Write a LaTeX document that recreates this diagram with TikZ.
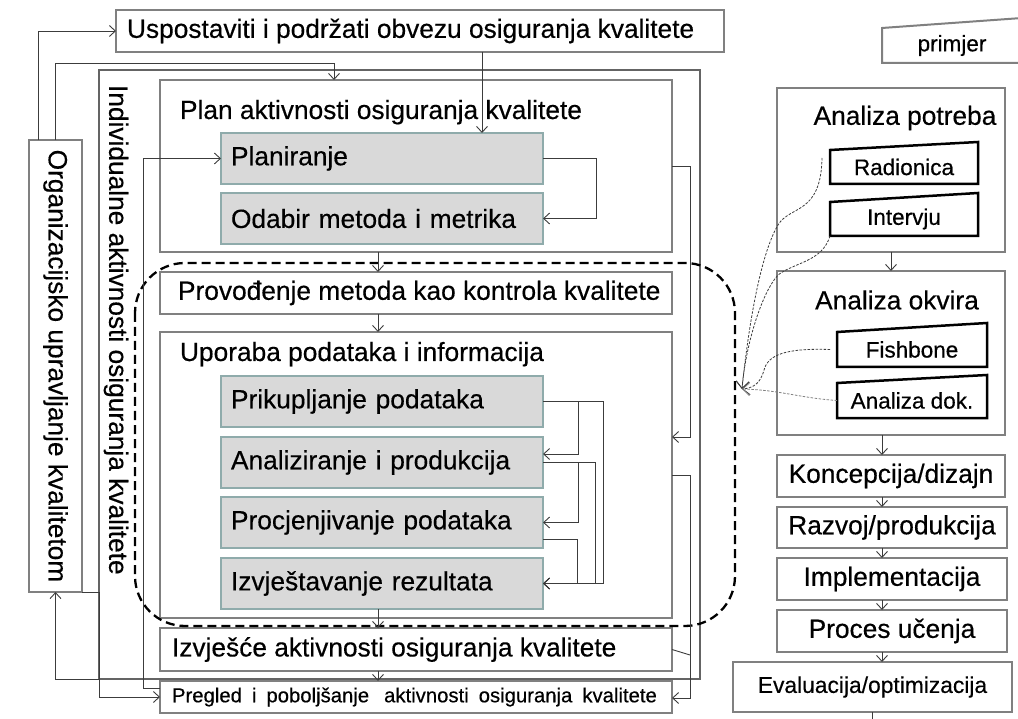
\documentclass[tikz,border=0pt]{standalone}
\usepackage{fontspec}
\setmainfont{Liberation Sans}[FakeBold=0.4]
\usetikzlibrary{arrows.meta}
\definecolor{boxgray}{RGB}{128,128,128}
\definecolor{darkbox}{RGB}{100,100,100}
\definecolor{subfill}{RGB}{217,217,217}
\definecolor{subborder}{RGB}{143,171,171}
\definecolor{linegray}{RGB}{60,60,60}
\newcommand\fa{\fontsize{26.3}{30}\selectfont}
\newcommand\fb{\fontsize{22.5}{26}\selectfont}
\newcommand\wsp{\hspace{10pt}}
\begin{document}
\begin{tikzpicture}[x=1pt,y=-1pt,
  every node/.style={inner sep=0pt, outer sep=0pt},
  gbox/.style={draw=boxgray, line width=2.5pt, anchor=north west, fill=white},
  thinbox/.style={draw=boxgray, line width=1.8pt, anchor=north west, fill=white},
  subbox/.style={draw=subborder, fill=subfill, line width=2.5pt, anchor=north west, minimum width=322pt, minimum height=51pt, text width=302pt, inner xsep=10pt, align=left, font=\fa},
  txt/.style={font=\fa, text=black},
  sl/.style={anchor=north west, minimum width=148pt, minimum height=34pt, font=\fb},
  slant/.style={draw=black, line width=2.5pt},
  conn/.style={draw=linegray, line width=0.9pt},
  arr/.style={conn, -{Straight Barb[length=6pt,width=11pt,line width=0.9pt]}},
  dotc/.style={draw=linegray, line width=0.8pt, dash pattern=on 2.5pt off 1.5pt, -{Straight Barb[length=7pt,width=13pt,line width=0.8pt]}}
]
\useasboundingbox (0,0) rectangle (1018,719);
\fill[white] (0,0) rectangle (1018,719);

\coordinate (c378) at (378,0);
\coordinate (c482) at (482,0);
\coordinate (c882) at (882,0);
\coordinate (c872) at (872,0);

% left part
\node[thinbox, minimum width=608pt, minimum height=42pt] (top) at (116,10) {};
\node[txt, anchor=west] (topT) at ([xshift=11pt]top.west) {Uspostaviti i podržati obvezu osiguranja kvalitete};
\node[thinbox, minimum width=53pt, minimum height=452pt] (org) at (29,140) {};
\node[txt, rotate=-90] (orgT) at (org.center) {Organizacijsko upravljanje kvalitetom};

\node[gbox, draw=darkbox, minimum width=601pt, minimum height=609pt] (outer) at (99,70) {};
\node[txt, rotate=-90, anchor=west] (outerT) at (116,85) {Individualne aktivnosti osiguranja kvalitete};

\node[gbox, minimum width=512pt, minimum height=172pt] (plan) at (160,80) {};
\node[txt, anchor=base west] (planT) at (180,119) {Plan aktivnosti osiguranja kvalitete};
\node[subbox] (plan1) at (221,133) {Planiranje};
\node[subbox] (plan2) at (221,193) {Odabir metoda i metrika};

\node[gbox, minimum width=512pt, minimum height=42pt] (prov) at (160,272) {};
\node[txt, anchor=west] (provT) at ([xshift=18pt]prov.west) {Provođenje metoda kao kontrola kvalitete};

\node[gbox, minimum width=512pt, minimum height=286pt] (upor) at (160,332) {};
\node[txt, anchor=base west] (uporT) at (180,361) {Uporaba podataka i informacija};
\node[subbox] (s1) at (221,376) {Prikupljanje podataka};
\node[subbox] (s2) at (221,437) {Analiziranje i produkcija};
\node[subbox] (s3) at (221,497) {Procjenjivanje podataka};
\node[subbox] (s4) at (221,558) {Izvještavanje rezultata};

\node[gbox, minimum width=512pt, minimum height=43pt] (izv) at (160,628) {};
\node[txt, anchor=west] (izvT) at ([xshift=12pt]izv.west) {Izvješće aktivnosti osiguranja kvalitete};

\node[gbox, minimum width=512pt, minimum height=32pt] (preg) at (160,681) {};
\node[anchor=west, font=\fontsize{20.3}{24}\selectfont] (pregT) at ([xshift=12pt]preg.west) {Pregled\wsp i\wsp poboljšanje\wsp\hspace{5pt}aktivnosti\wsp osiguranja\wsp kvalitete};

% dashed region
\draw[dash pattern=on 9pt off 5pt, line width=2.3pt, rounded corners=50pt] (135,263) rectangle (735,626);

% connectors left part
\draw[arr] ([xshift=-17pt]org.north) |- (top.west);
\draw[arr] (org.north) -- ++(0,-77) -| ([xshift=-82pt]plan.north);
\draw[arr] (top.south -| c482) -- (plan1.north -| c482);
\draw[arr] (plan1.east) -- ++(53,0) |- (plan2.east);
\draw[arr] (plan.south -| c378) -- (prov.north -| c378);
\draw[arr] (prov.south -| c378) -- (upor.north -| c378);
\draw[arr] (s4.south -| c378) -- (izv.north -| c378);
\draw[arr] (izv.south -| c378) -- (preg.north -| c378);

\draw[arr] (s1.east) -- ++(60,0) |- (s4.east);
\draw[arr] (s1.east) -- ++(35,0) |- ([yshift=8.5pt]s2.east);
\draw[arr] (s2.east) -- ++(35,0) |- (s3.east);
\draw[arr] (s2.east) -- ++(52,0) |- (s4.east);
\draw[arr] ([yshift=-17pt]s3.east) -- ++(34,0) |- (s4.east);

\coordinate (rA) at (690,437);
\coordinate (rB) at (690,698);
\coordinate (rC) at (690,655);
\draw[arr] (plan.east) -| (rA) -- (rA -| upor.east);
\draw[arr] (upor.east) -| (rB) -- (rB -| preg.east);
\draw[conn] (izv.east) -- (rC);

\coordinate (cL) at (143,688);
\coordinate (cM) at (99,697);
\draw[arr] (preg.west |- cL) -- (cL) |- (plan1.west);
\draw[arr] (org.south east) -| (cM) -- (cM -| preg.west);
\draw[arr] (outer.south west) -| (org.south);

% right column
\node[sl, minimum width=140pt, minimum height=35pt] (prim) at (882,28) {primjer};
\draw[boxgray, line width=2pt] (prim.south east) -- (prim.south west) -- (prim.north west) -- ([yshift=10pt]prim.north east);

\node[gbox, minimum width=228pt, minimum height=164pt] (ap) at (777,88) {};
\node[txt] (apT) at (905,118) {Analiza potreba};
\node[sl] (rad) at (830,150) {Radionica};
\draw[slant] (rad.south west) -- (rad.south east) -- ([yshift=8pt]rad.north east) -- (rad.north west) -- cycle;
\node[sl] (int) at (830,202) {Intervju};
\draw[slant] (int.south west) -- (int.south east) -- ([yshift=9pt]int.north east) -- (int.north west) -- cycle;

\node[gbox, minimum width=228pt, minimum height=164pt] (ao) at (777,271) {};
\node[txt] (aoT) at (897,300) {Analiza okvira};
\node[sl, minimum width=150pt, minimum height=35pt] (fish) at (837,332) {Fishbone};
\draw[slant] (fish.south west) -- (fish.south east) -- ([yshift=9pt]fish.north east) -- (fish.north west) -- cycle;
\node[sl, minimum width=150pt, minimum height=35pt] (adok) at (837,383) {Analiza dok.};
\draw[slant] (adok.south west) -- (adok.south east) -- ([yshift=8pt]adok.north east) -- (adok.north west) -- cycle;

\node[gbox, minimum width=228pt, minimum height=42pt, txt] (kon) at (777,455) {Koncepcija/dizajn};
\node[gbox, minimum width=230pt, minimum height=41pt, txt] (raz) at (777,507) {Razvoj/produkcija};
\node[gbox, minimum width=230pt, minimum height=42pt, txt] (imp) at (777,558) {Implementacija};
\node[gbox, minimum width=230pt, minimum height=42pt, txt] (pro) at (777,610) {Proces učenja};
\node[gbox, minimum width=279pt, minimum height=50pt, font=\fontsize{22.8}{26}\selectfont] (eva) at (733,662) {Evaluacija/optimizacija};

\draw[arr] (ap.south) -- (ao.north);
\draw[arr] (ao.south -| c882) -- (kon.north -| c882);
\draw[arr] (kon.south -| c882) -- (raz.north -| c882);
\draw[arr] (raz.south -| c882) -- (imp.north -| c882);
\draw[arr] (imp.south -| c882) -- (pro.north -| c882);
\draw[arr] (pro.south -| c882) -- (eva.north -| c882);
\draw[conn] (eva.south -| c872) -- ++(0,10);

% dotted curves
\coordinate (tip) at (742,389);
\draw[dotc] ([xshift=-8pt,yshift=9pt]rad.west) .. controls (821,215) and (790,205) .. (778,225) .. controls (760,255) and (748,330) .. (tip);
\draw[dotc] (int.south west) .. controls (822,262) and (795,262) .. (778,275) .. controls (760,295) and (745,350) .. (tip);
\draw[dotc] ([xshift=-7pt]fish.west) .. controls (785,348) and (768,355) .. (764,370) .. controls (760,385) and (752,388) .. (tip);
\draw[dotc, draw=gray] (adok.west) .. controls (800,398) and (780,390) .. (tip);
\end{tikzpicture}
\end{document}
